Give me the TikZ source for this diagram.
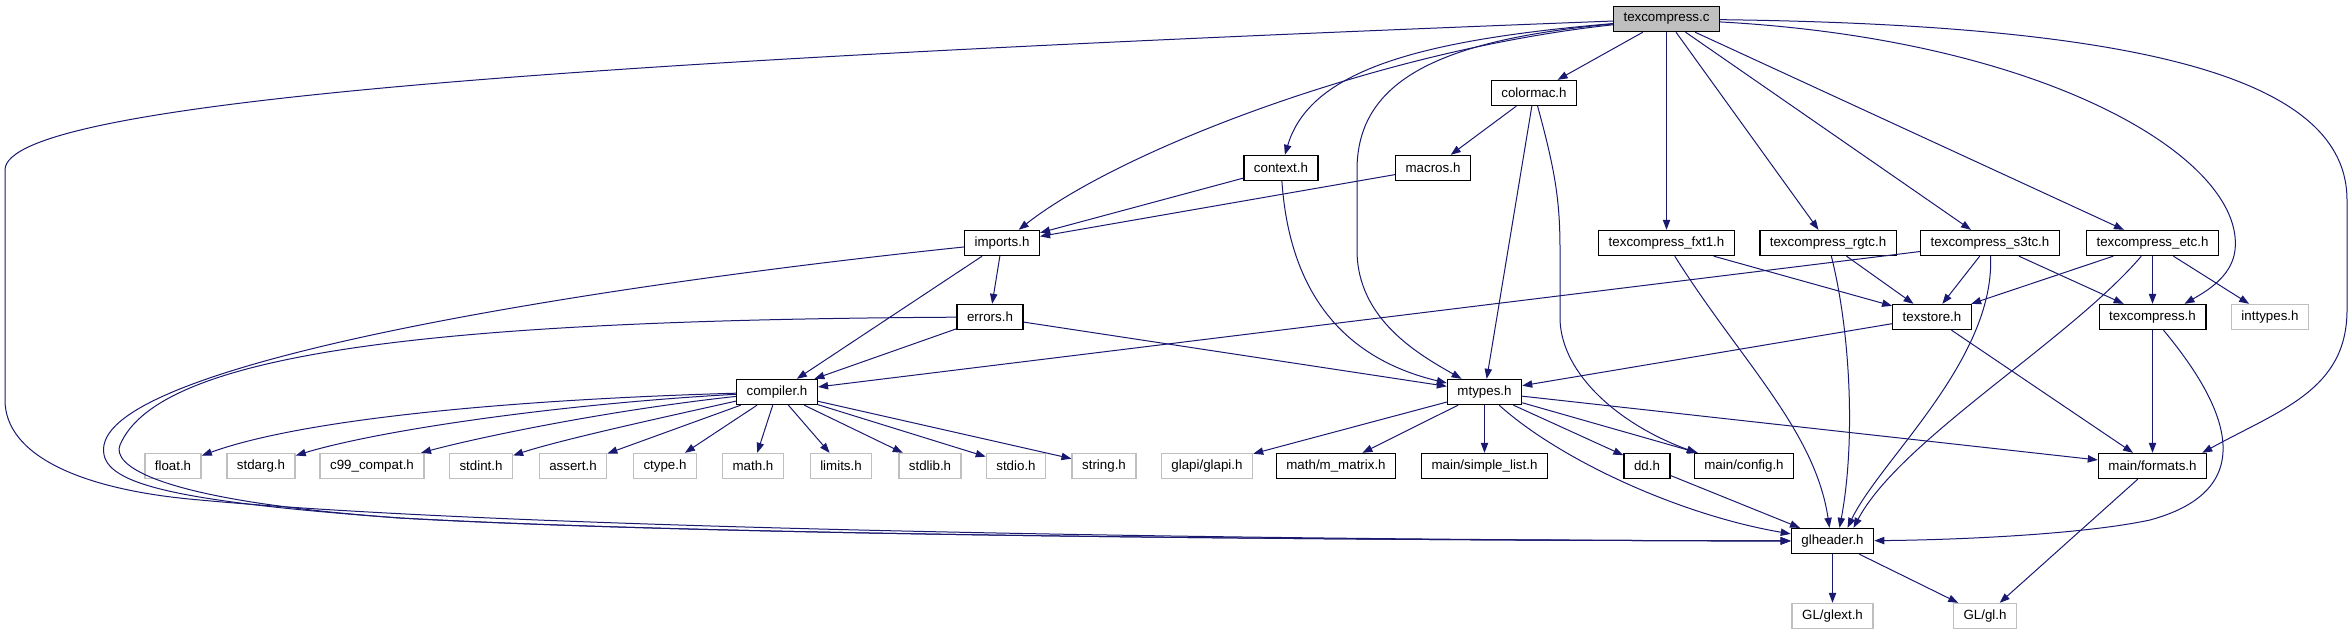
\documentclass[tikz,border=0pt]{standalone}
\usepackage{fontspec}
\setmainfont{Liberation Sans}
\usetikzlibrary{arrows.meta,calc}
\definecolor{edgeblue}{HTML}{191970}
\definecolor{lightgr}{HTML}{BFBFBF}
\begin{document}
\begin{tikzpicture}[x=0.75pt,y=-0.75pt,
  hdr/.style={draw=black,line width=1pt,fill=white,font=\fontsize{10pt}{12pt}\selectfont,inner xsep=7.5pt,inner ysep=0pt,minimum height=18.75pt},
  ext/.style={hdr,draw=lightgr},
  root/.style={hdr,fill=lightgr},
  dep/.style={draw=edgeblue,line width=0.75pt,-{Triangle[length=7.5pt,width=5.5pt]}}]
\useasboundingbox (0,0) rectangle (2352,635);
% row 0
\node[root] (texc) at (1666.5,19) {texcompress.c};
% row 1
\node[hdr] (colormac) at (1534,93) {colormac.h};
% row 2
\node[hdr] (context) at (1281,168) {context.h};
\node[hdr] (macros) at (1433,168) {macros.h};
% row 3
\node[hdr] (imports) at (1002,243) {imports.h};
\node[hdr] (fxt1) at (1666.5,243) {texcompress\_fxt1.h};
\node[hdr] (rgtc) at (1828,243) {texcompress\_rgtc.h};
\node[hdr] (s3tc) at (1990,243) {texcompress\_s3tc.h};
\node[hdr] (etcn) at (2152.5,243) {texcompress\_etc.h};
% row 4
\node[hdr] (errors) at (990,317) {errors.h};
\node[hdr] (texstore) at (1932,317) {texstore.h};
\node[hdr] (texcomph) at (2152.5,317) {texcompress.h};
\node[ext] (inttypes) at (2270,317) {inttypes.h};
% row 5
\node[hdr] (compiler) at (777,392) {compiler.h};
\node[hdr] (mtypes) at (1484.5,392) {mtypes.h};
% row 6
\node[ext] (floath) at (173,466) {float.h};
\node[ext] (stdarg) at (261,466) {stdarg.h};
\node[ext] (c99) at (372,466) {c99\_compat.h};
\node[ext] (stdint) at (481,466) {stdint.h};
\node[ext] (assert) at (573,466) {assert.h};
\node[ext] (ctype) at (665,466) {ctype.h};
\node[ext] (math) at (753,466) {math.h};
\node[ext] (limits) at (841,466) {limits.h};
\node[ext] (stdlib) at (930,466) {stdlib.h};
\node[ext] (stdio) at (1016,466) {stdio.h};
\node[ext] (string) at (1104,466) {string.h};
\node[ext] (glapi) at (1207,466) {glapi/glapi.h};
\node[hdr] (mmatrix) at (1336,466) {math/m\_matrix.h};
\node[hdr] (simplelist) at (1484.5,466) {main/simple\_list.h};
\node[hdr] (dd) at (1647,466) {dd.h};
\node[hdr] (config) at (1744,466) {main/config.h};
\node[hdr] (formats) at (2152.5,466) {main/formats.h};
% row 7
\node[hdr] (glheader) at (1832.5,541) {glheader.h};
% row 8
\node[ext] (glext) at (1832.5,616) {GL/glext.h};
\node[ext] (gl) at (1985,616) {GL/gl.h};

% texcompress.c
\draw[dep] (texc) .. controls (600,60) and (5,100) .. (5,170) -- (5,400) .. controls (5,455) and (80,490) .. (200,500) .. controls (500,528) and (1200,540) .. (glheader);
\draw[dep] (texc) .. controls (1380,50) and (1120,150) .. (imports);
\draw[dep] (texc) .. controls (1420,40) and (1310,70) .. (context);
\draw[dep] (texc) .. controls (1440,40) and (1357,80) .. (1357,170) -- (1357,250) .. controls (1357,320) and (1420,355) .. (mtypes);
\draw[dep] (texc) -- (colormac);
\draw[dep] (texc) -- (fxt1);
\draw[dep] (texc) -- (rgtc);
\draw[dep] (texc) -- (s3tc);
\draw[dep] (texc) -- (etcn);
\draw[dep] (texc) .. controls (2050,40) and (2245,160) .. (2235,250) .. controls (2232,277) and (2205,292) .. ($(texcomph.north east)+(-22,0)$);
\draw[dep] (texc) .. controls (2150,25) and (2347,80) .. (2347,200) -- (2347,310) .. controls (2347,390) and (2280,410) .. ($(formats.north east)+(-5,0)$);
% colormac
\draw[dep] (colormac) -- (macros);
\draw[dep] (colormac) -- (mtypes);
\draw[dep] (colormac) .. controls (1555,170) and (1560,200) .. (1560,250) -- (1560,320) .. controls (1562,375) and (1620,425) .. ($(config.north west)+(3,0)$);
% context, macros
\draw[dep] (context) -- (imports);
\draw[dep] (context) .. controls (1290,300) and (1350,360) .. (mtypes);
\draw[dep] (macros) -- (imports);
% imports
\draw[dep] (imports) -- (errors);
\draw[dep] (imports) -- (compiler);
\draw[dep] (imports) .. controls (600,285) and (120,360) .. (104,445) .. controls (98,480) and (150,500) .. (400,518) .. controls (700,535) and (1300,540) .. (glheader);
% errors
\draw[dep] (errors) -- (compiler);
\draw[dep] (errors) -- (mtypes);
\draw[dep] (errors) .. controls (450,320) and (160,350) .. (120,445) .. controls (112,464) and (150,500) .. (400,518) .. controls (700,535) and (1300,540) .. (glheader);
% s3tc
\draw[dep] (s3tc) -- (compiler);
\draw[dep] (s3tc) -- (texstore);
\draw[dep] (s3tc) -- (texcomph);
\draw[dep] (s3tc) .. controls (1995,360) and (1880,460) .. ($(glheader.north)+(15,0)$);
% fxt1
\draw[dep] (fxt1) -- (texstore);
\draw[dep] (fxt1) .. controls (1740,360) and (1815,430) .. ($(glheader.north)+(-3,0)$);
% rgtc
\draw[dep] (rgtc) -- (texstore);
\draw[dep] (rgtc) .. controls (1850,330) and (1856,440) .. ($(glheader.north)+(7,0)$);
% etc
\draw[dep] (etcn) -- (texstore);
\draw[dep] (etcn) -- (texcomph);
\draw[dep] (etcn) -- (inttypes);
\draw[dep] (etcn) .. controls (2070,340) and (1900,440) .. ($(glheader.north)+(21,0)$);
% texstore, texcompress.h
\draw[dep] (texstore) -- (mtypes);
\draw[dep] (texstore) -- (formats);
\draw[dep] (texcomph) -- (formats);
\draw[dep] (texcomph) .. controls (2230,410) and (2260,490) .. (2150,520) .. controls (2080,535) and (1950,540) .. (glheader);
% compiler
\draw[dep] (compiler) .. controls (500,400) and (300,420) .. (floath);
\draw[dep] (compiler) .. controls (560,404) and (380,430) .. (stdarg);
\draw[dep] (compiler) .. controls (610,410) and (480,437) .. (c99);
\draw[dep] (compiler) .. controls (660,418) and (560,440) .. (stdint);
\draw[dep] (compiler) -- (assert);
\draw[dep] (compiler) -- (ctype);
\draw[dep] (compiler) -- (math);
\draw[dep] (compiler) -- (limits);
\draw[dep] (compiler) -- (stdlib);
\draw[dep] (compiler) -- (stdio);
\draw[dep] (compiler) -- (string);
% mtypes
\draw[dep] (mtypes) -- (glapi);
\draw[dep] (mtypes) -- (mmatrix);
\draw[dep] (mtypes) -- (simplelist);
\draw[dep] (mtypes) -- (dd);
\draw[dep] (mtypes) -- (config);
\draw[dep] (mtypes) -- (formats);
\draw[dep] (mtypes) .. controls (1560,460) and (1680,515) .. (glheader);
% lower
\draw[dep] (dd) -- (glheader);
\draw[dep] (formats) -- (gl);
\draw[dep] (glheader) -- (glext);
\draw[dep] (glheader) -- (gl);
\end{tikzpicture}
\end{document}
